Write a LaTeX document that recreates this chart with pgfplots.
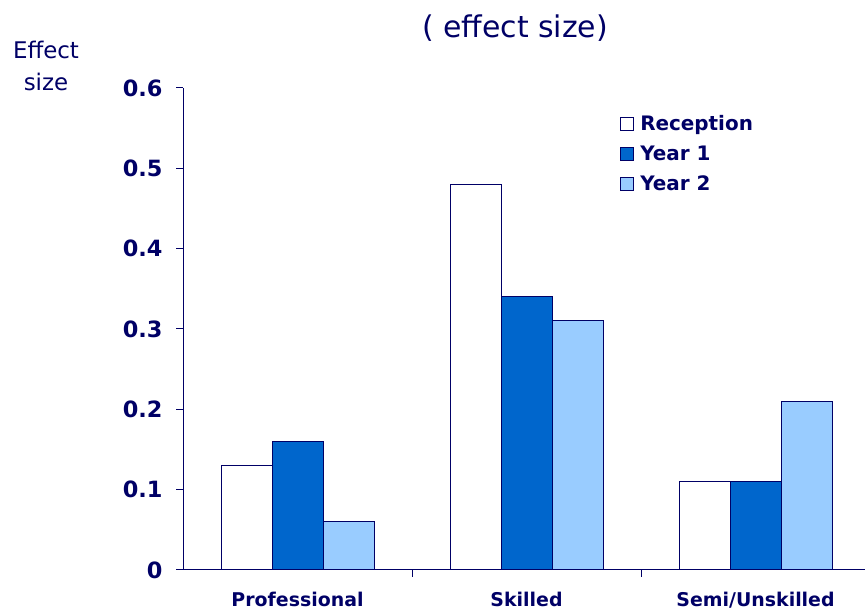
\documentclass[border=0pt]{standalone}
\usepackage{pgfplots}
\pgfplotsset{compat=1.18}
\usepackage{fontspec}
\setmainfont{DejaVu Sans}

\definecolor{navy}{RGB}{0,0,102}
\definecolor{yearone}{RGB}{0,102,204}
\definecolor{yeartwo}{RGB}{153,204,255}

\begin{document}
\begin{tikzpicture}[x=1bp,y=1bp]
\useasboundingbox (0,0) rectangle (865,611);
\begin{axis}[
    at={(183bp,41bp)}, anchor=south west,
    scale only axis,
    width=682bp, height=482bp,
    xmin=-0.5, xmax=2.478,
    ymin=0, ymax=0.6,
    axis x line*=bottom, axis y line*=left,
    axis line style={navy, line width=1bp},
    ybar=0pt, bar width=0.2227,
    xtick={0,1,2},
    xticklabels={Professional,Skilled,Semi/Unskilled},
    major x tick style={draw=none},
    minor xtick={0.5,1.5,2.5},
    ytick={0,0.1,0.2,0.3,0.4,0.5,0.6},
    yticklabel style={/pgf/number format/fixed, /pgf/number format/precision=1,
        font=\fontsize{22.5}{26}\selectfont\bfseries, text=navy, xshift=-10bp},
    /pgf/number format/assume math mode=true,
    xticklabel style={font=\fontsize{19}{22}\selectfont\bfseries, text=navy,
        anchor=base, yshift=-30bp},
    tick align=outside,
    major tick length=7bp, minor tick length=7bp,
    tick style={navy, line width=1bp},
    legend style={draw=none, fill=none, at={(0.641,0.948)}, anchor=north west,
        font=\fontsize{20}{24}\selectfont\bfseries, text=navy,
        row sep=10bp, inner sep=0pt},
    legend cell align=left,
    legend image code/.code={\draw[#1,draw=navy,line width=0.8bp] (0bp,-6.5bp) rectangle (13bp,6.5bp); \path (17bp,0bp);},
    every axis plot/.append style={draw=navy, line width=1bp},
]
\addplot[fill=white] coordinates {(0,0.13) (1,0.48) (2,0.11)};
\addplot[fill=yearone] coordinates {(0,0.16) (1,0.34) (2,0.11)};
\addplot[fill=yeartwo] coordinates {(0,0.06) (1,0.31) (2,0.21)};
\legend{Reception,Year 1,Year 2}
\end{axis}
\node[text=navy, font=\fontsize{30}{34}\selectfont] at (515,583) {( effect size)};
\node[text=navy, font=\fontsize{23}{27}\selectfont, align=center] at (46,545) {Effect\\[5bp]size};
\end{tikzpicture}
\end{document}
